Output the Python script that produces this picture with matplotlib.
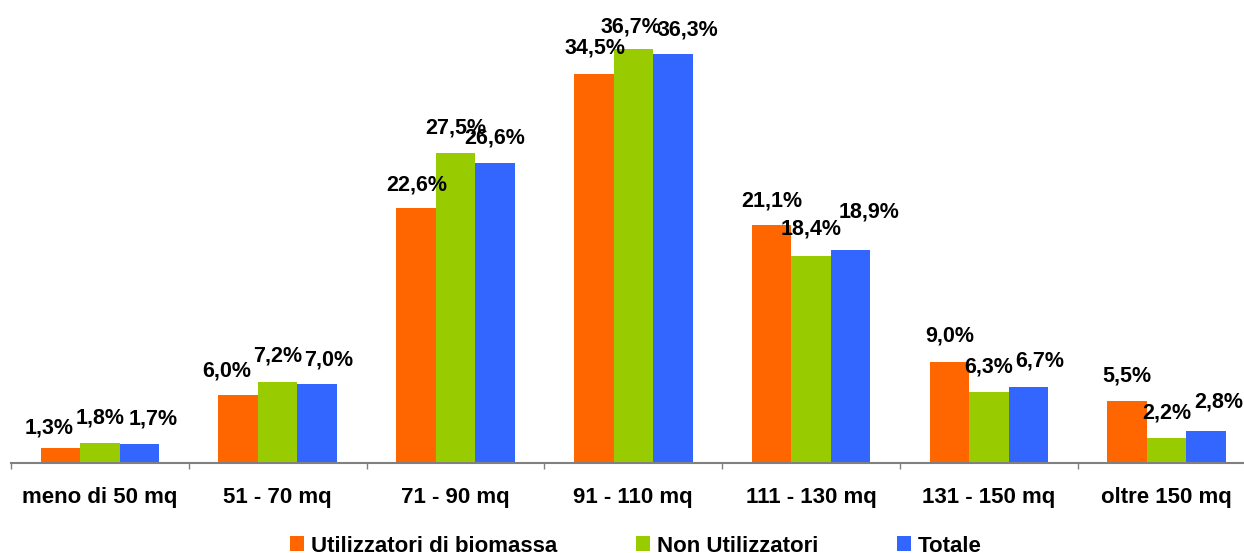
import matplotlib
matplotlib.use("Agg")
import matplotlib.pyplot as plt
import numpy as np
from matplotlib.patches import Patch

categories = ["meno di 50 mq", "51 - 70 mq", "71 - 90 mq", "91 - 110 mq",
              "111 - 130 mq", "131 - 150 mq", "oltre 150 mq"]
series_names = ["Utilizzatori di biomassa", "Non Utilizzatori", "Totale"]
utilizzatori = [1.3, 6.0, 22.6, 34.5, 21.1, 9.0, 5.5]
non_utilizzatori = [1.8, 7.2, 27.5, 36.7, 18.4, 6.3, 2.2]
totale = [1.7, 7.0, 26.6, 36.3, 18.9, 6.7, 2.8]
colors = ["#FF6600", "#99CC00", "#3366FF"]

# label nudges in pixels (dx, dy above bar top to baseline), per series
label_dx = [[-11, -11, 1, 1, 0, 0, 0],
            [0, 0, 0, -2, 0, 0, 0],
            [14, 12, 0, 15, 18, 11, 13]]
label_dy = [[15, 19, 18, 21, 19, 20, 20],
            [19, 20, 20, 17, 21, 19, 20],
            [19, 19, 20, 18, 32, 21, 24]]

plt.rcParams['font.family'] = ['Liberation Sans', 'DejaVu Sans']

W, H = 1244, 553
fig = plt.figure(figsize=(W / 100, H / 100), dpi=100)
left_px, axis_px, top_px = 11, 463, 12
cat_w = 177.8
ax = fig.add_axes([left_px / W, (H - axis_px) / H, 7 * cat_w / W, (axis_px - top_px) / H])

px2pt = 72 / 100
x = np.arange(len(categories))
bw = 0.222
data = [utilizzatori, non_utilizzatori, totale]
for i, (vals, c) in enumerate(zip(data, colors)):
    pos = x + (i - 1) * bw
    ax.bar(pos, vals, width=bw, color=c, edgecolor='none', zorder=2)
    for j, (px_, v) in enumerate(zip(pos, vals)):
        ax.annotate(f"{v:.1f}%".replace(".", ","), (px_, v),
                    xytext=(label_dx[i][j] * px2pt, label_dy[i][j] * px2pt),
                    textcoords='offset points', ha='center', va='baseline',
                    fontsize=15.5, fontweight='bold', color='black', zorder=3)

ax.set_xlim(-0.5, len(categories) - 0.5)
ax.set_ylim(0, (axis_px - top_px) / 11.27)
for s in ['top', 'right', 'left']:
    ax.spines[s].set_visible(False)
ax.spines['bottom'].set_color('#808080')
ax.spines['bottom'].set_linewidth(1.5)
ax.set_yticks([])
ax.set_xticks(x)
ax.set_xticklabels(categories, fontsize=16, fontweight='bold')
ax.tick_params(axis='x', which='major', length=0, pad=17)
ax.set_xticks(np.arange(-0.5, len(categories), 1.0), minor=True)
ax.tick_params(axis='x', which='minor', length=4, width=1, color='#808080', direction='out')

handles = [Patch(facecolor=c, edgecolor='none') for c in colors]
fig.legend(handles, series_names, loc='center', bbox_to_anchor=(636 / W, 1 - 546 / H),
           ncol=3, frameon=False, prop={'size': 16, 'weight': 'bold'},
           handlelength=0.63, handleheight=0.63, handletextpad=0.3, columnspacing=3.55,
           borderpad=0)

fig.savefig("out.png", dpi=100)
